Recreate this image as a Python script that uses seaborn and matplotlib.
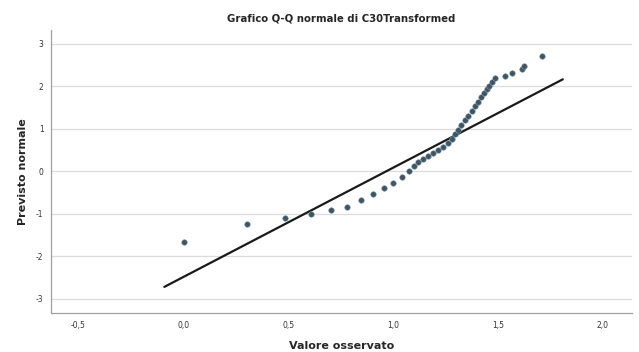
import numpy as np
import pandas as pd
import matplotlib
matplotlib.use('Agg')
import matplotlib.pyplot as plt
import seaborn as sns
from matplotlib.ticker import FuncFormatter

observed = [0.005, 0.305, 0.486, 0.61, 0.705, 0.78, 0.85, 0.905, 0.957, 1.0,
            1.045, 1.075, 1.10,
            1.12, 1.144, 1.168, 1.192, 1.216, 1.240, 1.263, 1.280, 1.295,
            1.311, 1.327, 1.343, 1.359, 1.375, 1.390, 1.406, 1.420, 1.434,
            1.447, 1.460, 1.473, 1.487,
            1.533, 1.567, 1.614, 1.624, 1.71]
expected = [-1.66, -1.24, -1.10, -1.00, -0.91, -0.83, -0.67, -0.53, -0.40, -0.27,
            -0.14, 0.00, 0.12,
            0.22, 0.29, 0.37, 0.43, 0.50, 0.58, 0.68, 0.77, 0.87,
            0.98, 1.09, 1.20, 1.31, 1.42, 1.53, 1.64, 1.74, 1.84,
            1.93, 2.02, 2.11, 2.21,
            2.25, 2.32, 2.41, 2.48, 2.72]

# reference line of the fitted normal
ref_mean = 0.967
ref_sd = 0.389
line_x = [-0.09, 1.81]

x_ticks = [-0.5, 0.0, 0.5, 1.0, 1.5, 2.0]
y_ticks = [-3, -2, -1, 0, 1, 2, 3]

pts = pd.DataFrame({'Osservato': observed, 'Previsto': expected})
ref = pd.DataFrame({'x': line_x})
ref['y'] = (ref['x'] - ref_mean) / ref_sd

sns.set_style('white')
plt.rcParams['font.family'] = ['DejaVu Sans']

fig = plt.figure(figsize=(6.39, 3.52), dpi=100)
ax = fig.add_axes([0.080, 0.111, 0.909, 0.804])

for yt in y_ticks:
    ax.axhline(yt, color='#dcdcdc', lw=0.9, zorder=0)

sns.lineplot(data=ref, x='x', y='y', color='#1a1a1a', lw=1.6, ax=ax, zorder=2)
sns.scatterplot(data=pts, x='Osservato', y='Previsto', color='#46535e',
                edgecolor='#6f9fb5', linewidth=0.4, s=16, ax=ax, zorder=3)

ax.set_xlim(-0.63, 2.14)
ax.set_ylim(-3.33, 3.33)
ax.set_xticks(x_ticks)
ax.set_yticks(y_ticks)
fmt = FuncFormatter(lambda v, p: f'{v:.1f}'.replace('.', ','))
ax.xaxis.set_major_formatter(fmt)
ax.yaxis.set_major_formatter(FuncFormatter(lambda v, p: f'{int(v)}'))
ax.tick_params(labelsize=5.5, colors='#333333', length=2, width=0.5)

for side in ['top', 'right']:
    ax.spines[side].set_visible(False)
for side in ['left', 'bottom']:
    ax.spines[side].set_color('#a0a0a0')
    ax.spines[side].set_linewidth(0.9)

ax.set_title('Grafico Q-Q normale di C30Transformed', fontsize=7.3,
             fontweight='bold', pad=6)
ax.set_xlabel('Valore osservato', fontsize=8, fontweight='bold', labelpad=8)
ax.set_ylabel('Previsto normale', fontsize=8, fontweight='bold', labelpad=6)

plt.savefig('out.png', dpi=100)
plt.close()
